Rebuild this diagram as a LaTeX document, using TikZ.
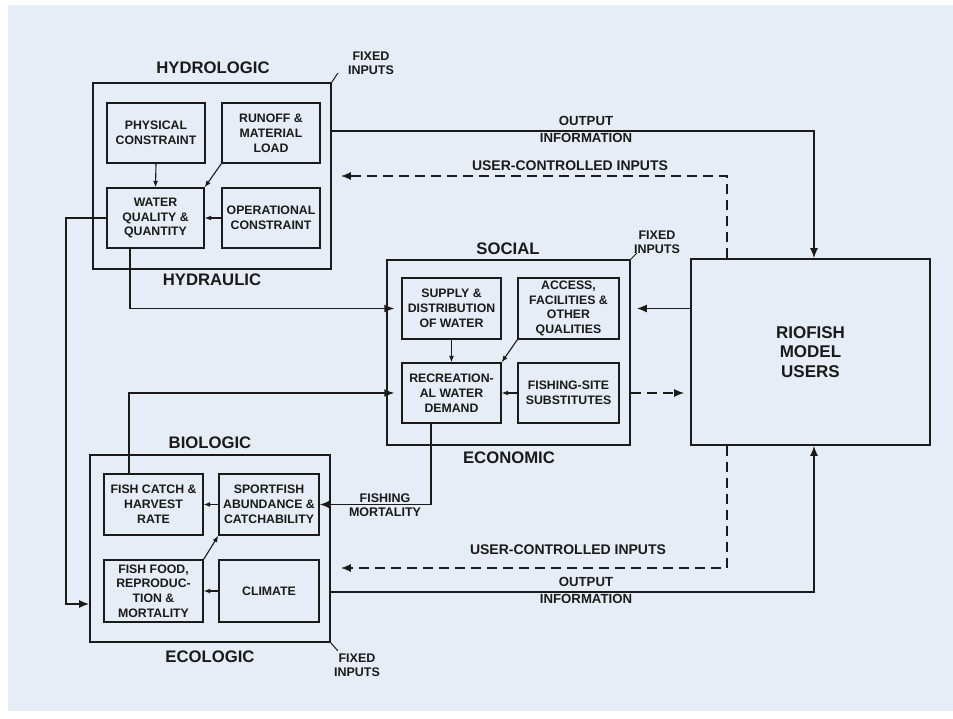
\documentclass[tikz,border=0pt]{standalone}
\usepackage{fontspec}
\setmainfont{Liberation Sans}
\usetikzlibrary{arrows.meta}
\definecolor{bg}{HTML}{E6EDF6}
\definecolor{ink}{HTML}{1A1A1A}
\begin{document}
\begin{tikzpicture}[x=1pt,y=-1pt,
  outerbox/.style={draw=ink,line width=1.7pt,inner sep=0pt},
  innerbox/.style={draw=ink,line width=1.4pt,inner sep=0pt,align=center,text=ink,
    font=\fontsize{12.3}{14.8}\selectfont\bfseries},
  titletext/.style={font=\fontsize{16.7}{18}\selectfont\bfseries,text=ink},
  lbl/.style={font=\fontsize{12.5}{14}\selectfont\bfseries,align=center,text=ink,inner sep=0pt},
  conn/.style={draw=ink,line width=1.5pt},
  arr/.style={conn,-{Latex[length=10pt,width=8pt]}},
  sarr/.style={draw=ink,line width=1.1pt,-{Latex[length=6.5pt,width=5pt]}},
  darr/.style={arr,dash pattern=on 10pt off 6pt},
]
\useasboundingbox (0,0) rectangle (953,719);
\fill[bg] (8,5) rectangle (953,711);

% ---------- Hydrologic ----------
\node[outerbox,minimum width=238pt,minimum height=186pt] (hydro) at (212,176) {};
\node[innerbox,minimum width=98pt,minimum height=60pt] (phys) at (156,133) {PHYSICAL\\CONSTRAINT};
\node[innerbox,minimum width=98pt,minimum height=60pt] (runoff) at (271,133) {RUNOFF \&\\MATERIAL\\LOAD};
\node[innerbox,minimum width=97pt,minimum height=60pt] (water) at (155.5,218) {WATER\\QUALITY \&\\QUANTITY};
\node[innerbox,minimum width=98pt,minimum height=60pt] (oper) at (271,218) {OPERATIONAL\\CONSTRAINT};
\node[titletext] (thydro) at (213,68) {HYDROLOGIC};
\node[titletext] (thydr) at (212,280) {HYDRAULIC};
\node[lbl] (fix1) at (371,63) {FIXED\\INPUTS};

% ---------- Social ----------
\node[outerbox,minimum width=243pt,minimum height=185pt] (social) at (508.5,352.5) {};
\node[innerbox,minimum width=99pt,minimum height=61pt] (supply) at (451.5,308.5) {SUPPLY \&\\DISTRIBUTION\\OF WATER};
\node[innerbox,minimum width=101pt,minimum height=61pt] (access) at (568.5,308.5) {ACCESS,\\FACILITIES \&\\OTHER\\QUALITIES};
\node[innerbox,minimum width=99pt,minimum height=60pt] (recr) at (451.5,393) {RECREATION-\\AL WATER\\DEMAND};
\node[innerbox,minimum width=101pt,minimum height=60pt] (site) at (568.5,393) {FISHING-SITE\\SUBSTITUTES};
\node[titletext] (tsocial) at (508,249) {SOCIAL};
\node[titletext] (tecon) at (509,458) {ECONOMIC};
\node[lbl] (fix2) at (657,242) {FIXED\\INPUTS};

% ---------- Users ----------
\node[outerbox,minimum width=239pt,minimum height=186pt,align=center,text=ink,
  font=\fontsize{17}{19.5}\selectfont\bfseries] (users) at (810.5,352) {RIOFISH\\MODEL\\USERS};

% ---------- Biologic ----------
\node[outerbox,minimum width=240pt,minimum height=187pt] (bio) at (210,548.5) {};
\node[innerbox,minimum width=99pt,minimum height=61pt] (catch) at (153.5,504.5) {FISH CATCH \&\\HARVEST\\RATE};
\node[innerbox,minimum width=100pt,minimum height=61pt] (sport) at (269,504.5) {SPORTFISH\\ABUNDANCE \&\\CATCHABILITY};
\node[innerbox,minimum width=99pt,minimum height=62pt] (food) at (153.5,591) {FISH FOOD,\\REPRODUC-\\TION \&\\MORTALITY};
\node[innerbox,minimum width=100pt,minimum height=62pt] (climate) at (269,591) {CLIMATE};
\node[titletext] (tbio) at (210,443) {BIOLOGIC};
\node[titletext] (teco) at (210,657) {ECOLOGIC};
\node[lbl] (fix3) at (357,665) {FIXED\\INPUTS};

% ---------- fixed-input ticks ----------
\draw[draw=ink,line width=1pt] (hydro.north east) -- ++(6,-9);
\draw[draw=ink,line width=1pt] (social.north east) -- ++(6,-6);
\draw[draw=ink,line width=1pt] (bio.south east) -- ++(7,8);

% ---------- internal arrows ----------
\draw[sarr] (phys.south) -- (water.north);
\draw[sarr] (runoff.south west) -- (water.north east);
\draw[sarr] (oper.west) -- (water.east);
\draw[sarr] (supply.south) -- (recr.north);
\draw[sarr] (access.south west) -- (recr.north east);
\draw[sarr] (site.west) -- (recr.east);
\draw[sarr] (sport.west) -- (catch.east);
\draw[sarr] (food.north east) -- (sport.south west);
\draw[sarr] (climate.west) -- (food.east);

% ---------- cross connectors ----------
\coordinate (lw) at (66,604);
\draw[arr] (water.west) -| (lw) -- (lw -| bio.west);
\coordinate (w1) at (130,307);
\draw[arr] (w1 |- water.south) |- ([xshift=-7pt]supply.west);
\coordinate (fc) at (129,394);
\draw[arr] (fc |- catch.north) |- ([xshift=-7pt]recr.west);
\coordinate (rd) at (431,505);
\draw[arr] (rd |- recr.south) |- (sport.east);
\node[lbl] (fm) at (385,505) {FISHING\\MORTALITY};

\draw[arr] (users.west |- supply) -- ([xshift=6pt]social.east |- supply);
\draw[darr] (social.east |- recr) -- ([xshift=-6pt]users.west |- recr);

\coordinate (o1) at (814,131);
\draw[arr] (o1 -| hydro.east) -- (o1) -- (o1 |- users.north);
\node[lbl,font=\fontsize{13.2}{14}\selectfont\bfseries] (out1) at (586,129) {OUTPUT\\[3pt]INFORMATION};
\coordinate (d1) at (727,176);
\draw[darr] (d1 |- users.north) -- (d1) -- ([xshift=9pt]d1 -| hydro.east);
\node[lbl,font=\fontsize{14}{14}\selectfont\bfseries] (uci1) at (570,166) {USER-CONTROLLED INPUTS};

\coordinate (d2) at (727,568);
\draw[darr] (d2 |- users.south) -- (d2) -- ([xshift=10pt]d2 -| bio.east);
\node[lbl,font=\fontsize{14}{14}\selectfont\bfseries] (uci2) at (568,550) {USER-CONTROLLED INPUTS};
\coordinate (o2) at (814,592);
\draw[arr] (o2 -| bio.east) -- (o2) -- (o2 |- users.south);
\node[lbl,font=\fontsize{13.2}{14}\selectfont\bfseries] (out2) at (586,590) {OUTPUT\\[3pt]INFORMATION};
\end{tikzpicture}
\end{document}
